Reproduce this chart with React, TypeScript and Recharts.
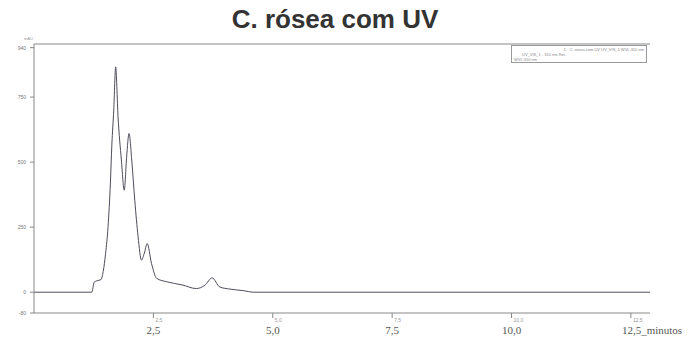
import React from "react";
import { LineChart, Line, XAxis, YAxis, ReferenceLine } from "recharts";

const times = [0, 1.21, 1.26, 1.32, 1.4, 1.45, 1.5, 1.55, 1.6, 1.63, 1.67, 1.71, 1.76, 1.83, 1.89, 1.94, 1.99, 2.05, 2.11, 2.18, 2.25, 2.31, 2.37, 2.46, 2.57, 2.78, 3.1, 3.4, 3.58, 3.73, 3.89, 4.1, 4.38, 4.6, 12.9];
const absorbance = [0, 0, 38, 44, 48, 80, 150, 250, 420, 565, 700, 866, 674, 508, 392, 520, 610, 500, 354, 213, 123, 150, 187, 111, 53, 40, 28, 14, 27, 55, 20, 12, 6, 0, 0];
const xTicks = [2.5, 5, 7.5, 10, 12.5];
const xTickLabels = ["2,5", "5,0", "7,5", "10,0", "12,5_minutos"];
const yTicks = [-80, 0, 250, 500, 750, 940];
const yTickLabels = ["-80", "0", "250", "500", "750", "940"];
const legendLines = ["1 - C. rosea com UV  UV_VIS_1  WVL:310 nm", "UV_VIS_1 - 310 nm  Ret.", "WVL:310 nm"];

const data = times.map((t, i) => ({ t, v: absorbance[i] }));

const XTick = (props: any) => {
  const { x, y, payload, index } = props;
  const label = xTickLabels[xTicks.indexOf(payload.value)] ?? String(payload.value);
  const last = index === xTicks.length - 1;
  return (
    <g>
      <line x1={x} y1={y - 8} x2={x} y2={y - 3} stroke="#888" strokeWidth={1} />
      <text x={x + 2} y={y + 1} fontSize={5} fill="#999" fontFamily="Liberation Sans, sans-serif">
        {label.split("_")[0]}
      </text>
      <text
        x={last ? x - 9 : x}
        y={y + 13}
        fontSize={11}
        fill="#555"
        fontFamily="Liberation Serif, serif"
        textAnchor={last ? "start" : "middle"}
      >
        {label}
      </text>
    </g>
  );
};

const YTick = (props: any) => {
  const { x, y, payload } = props;
  const label = yTickLabels[yTicks.indexOf(payload.value)] ?? String(payload.value);
  return (
    <text x={x - 2} y={y + 2} fontSize={5} fill="#777" textAnchor="end" fontFamily="Liberation Sans, sans-serif">
      {label}
    </text>
  );
};

export default function App() {
  return (
    <div style={{ position: "absolute", left: 0, top: 0, width: 688, height: 342, background: "#fff", overflow: "hidden" }}>
      <div
        style={{
          position: "absolute",
          left: 0,
          top: 3,
          width: 670,
          textAlign: "center",
          fontFamily: "Liberation Sans, Arial, sans-serif",
          fontWeight: "bold",
          fontSize: 26,
          color: "#333",
          lineHeight: "32px",
        }}
      >
        C. rósea com UV
      </div>
      <div style={{ position: "absolute", left: 24, top: 36, fontSize: 4, color: "#999", fontFamily: "Liberation Sans, sans-serif" }}>
        mAU
      </div>
      <div
        style={{
          position: "absolute",
          left: 511,
          top: 45,
          width: 136,
          height: 18,
          border: "1px solid #999",
          fontFamily: "Liberation Sans, sans-serif",
          fontSize: 4,
          color: "#888",
          lineHeight: "5px",
          padding: "1px 2px",
          boxSizing: "border-box",
          background: "#fff",
          zIndex: 2,
        }}
      >
        <div style={{ textAlign: "right" }}>{legendLines[0]}</div>
        <div style={{ paddingLeft: 8 }}>{legendLines[1]}</div>
        <div>{legendLines[2]}</div>
      </div>
      <LineChart width={688} height={342} data={data} margin={{ top: 44, right: 38, bottom: 4, left: 0 }}>
        <XAxis
          dataKey="t"
          type="number"
          domain={[0, 12.9]}
          ticks={xTicks}
          tick={<XTick />}
          tickLine={false}
          axisLine={{ stroke: "#888" }}
          height={25}
          interval={0}
        />
        <YAxis
          type="number"
          domain={[-80, 954]}
          ticks={yTicks}
          tick={<YTick />}
          tickSize={4}
          tickLine={{ stroke: "#888" }}
          axisLine={{ stroke: "#888" }}
          width={34}
          interval={0}
        />
        <ReferenceLine y={954} stroke="#888" strokeWidth={1} />
        <Line
          type="monotone"
          dataKey="v"
          stroke="#4d4d5c"
          strokeWidth={1}
          dot={false}
          isAnimationActive={false}
        />
      </LineChart>
    </div>
  );
}
